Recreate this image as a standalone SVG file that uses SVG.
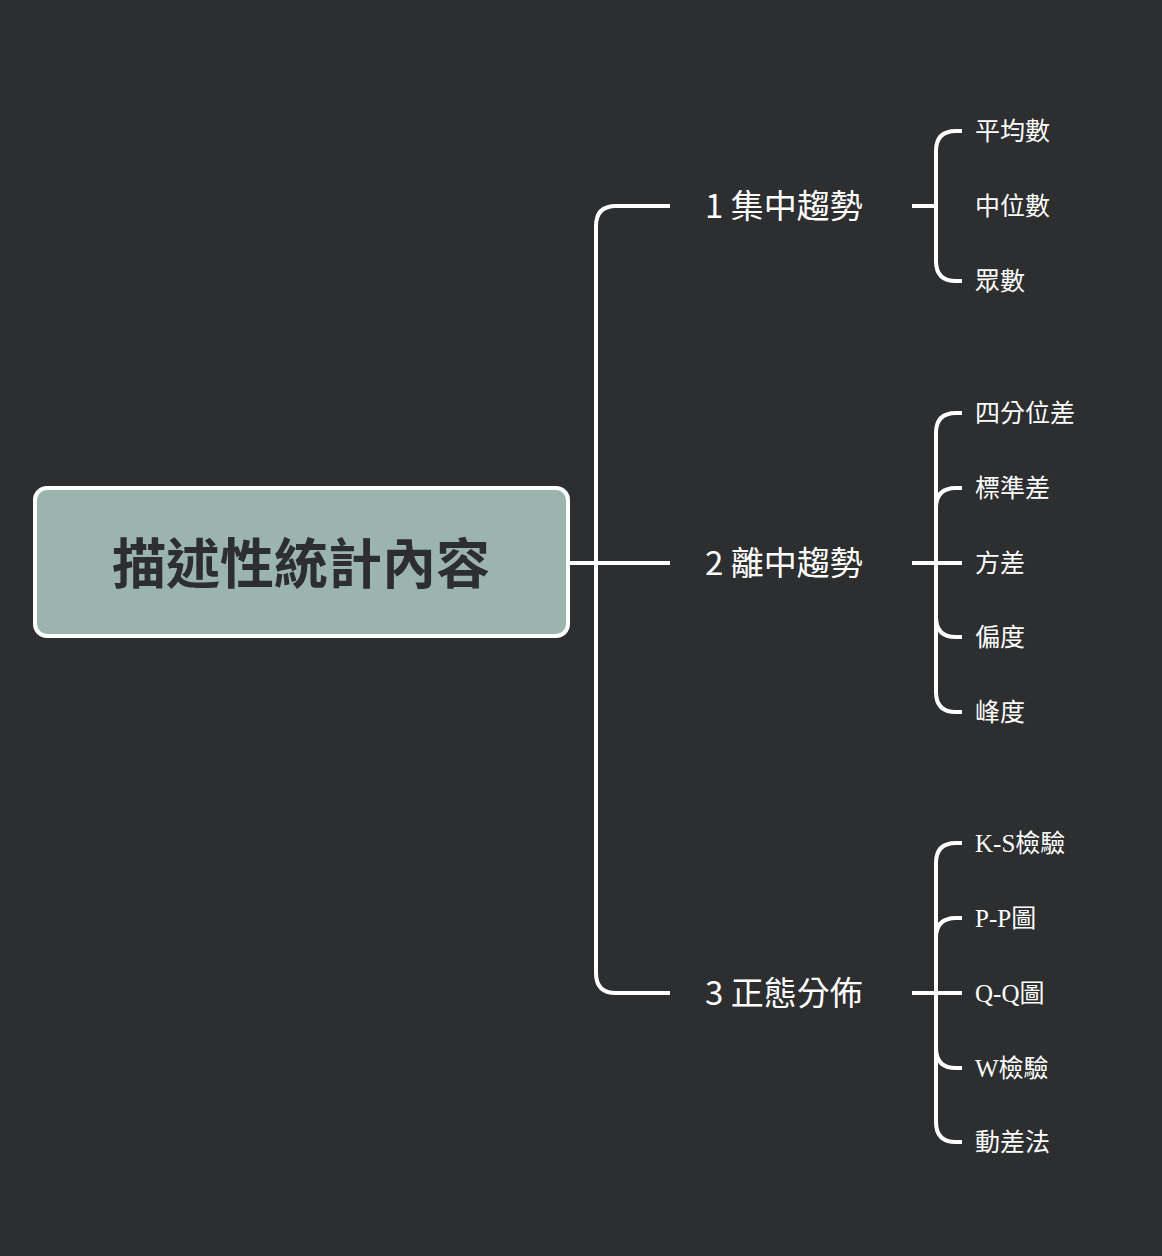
<svg xmlns="http://www.w3.org/2000/svg" width="1162" height="1256" viewBox="0 0 1162 1256">
<style>
.ln{fill:none;stroke:#fff;stroke-width:4;stroke-linecap:butt}
.l1{font-family:"Noto Sans CJK TC","Noto Sans CJK SC",sans-serif;font-size:33px;fill:#fff}
.lf{font-family:"Liberation Serif","Noto Sans CJK TC",serif;font-size:25px;fill:#fff}
</style>
<rect width="1162" height="1256" fill="#2d2e30"/>
<g id="connectors">
<path class="ln" d="M570 563H670M670 206H616Q596 206 596 226V973Q596 993 616 993H670"/>
<path class="ln" d="M912 206H936M962 131H956Q936 131 936 151V261Q936 281 956 281H962"/>
<path class="ln" d="M912 563H962M962 413H956Q936 413 936 433V692Q936 712 956 712H962M962 488H956Q936 488 936 508M962 637H956Q936 637 936 617"/>
<path class="ln" d="M912 993H962M962 843H956Q936 843 936 863V1122Q936 1142 956 1142H962M962 918H956Q936 918 936 938M962 1068H956Q936 1068 936 1048"/>
</g>
<g id="root">
<rect x="35" y="488" width="533" height="148" rx="12" fill="#9bb5ae" stroke="#fff" stroke-width="4"/>
<text x="301" y="584" text-anchor="middle" font-family="Noto Sans CJK TC,Noto Sans CJK SC,sans-serif" font-size="54" font-weight="bold" fill="#2d2e30">描述性統計內容</text>
</g>
<g id="n1"><text class="l1" x="705" y="218">1 集中趨勢</text></g>
<g id="n2"><text class="l1" x="705" y="575">2 離中趨勢</text></g>
<g id="n3"><text class="l1" x="705" y="1005">3 正態分佈</text></g>
<g id="leaves">
<text class="lf" x="975" y="140">平均數</text>
<text class="lf" x="975" y="215">中位數</text>
<text class="lf" x="975" y="290">眾數</text>
<text class="lf" x="975" y="422">四分位差</text>
<text class="lf" x="975" y="497">標準差</text>
<text class="lf" x="975" y="572">方差</text>
<text class="lf" x="975" y="646">偏度</text>
<text class="lf" x="975" y="721">峰度</text>
<text class="lf" x="975" y="852">K-S檢驗</text>
<text class="lf" x="975" y="927">P-P圖</text>
<text class="lf" x="975" y="1002">Q-Q圖</text>
<text class="lf" x="975" y="1077">W檢驗</text>
<text class="lf" x="975" y="1151">動差法</text>
</g>
</svg>
